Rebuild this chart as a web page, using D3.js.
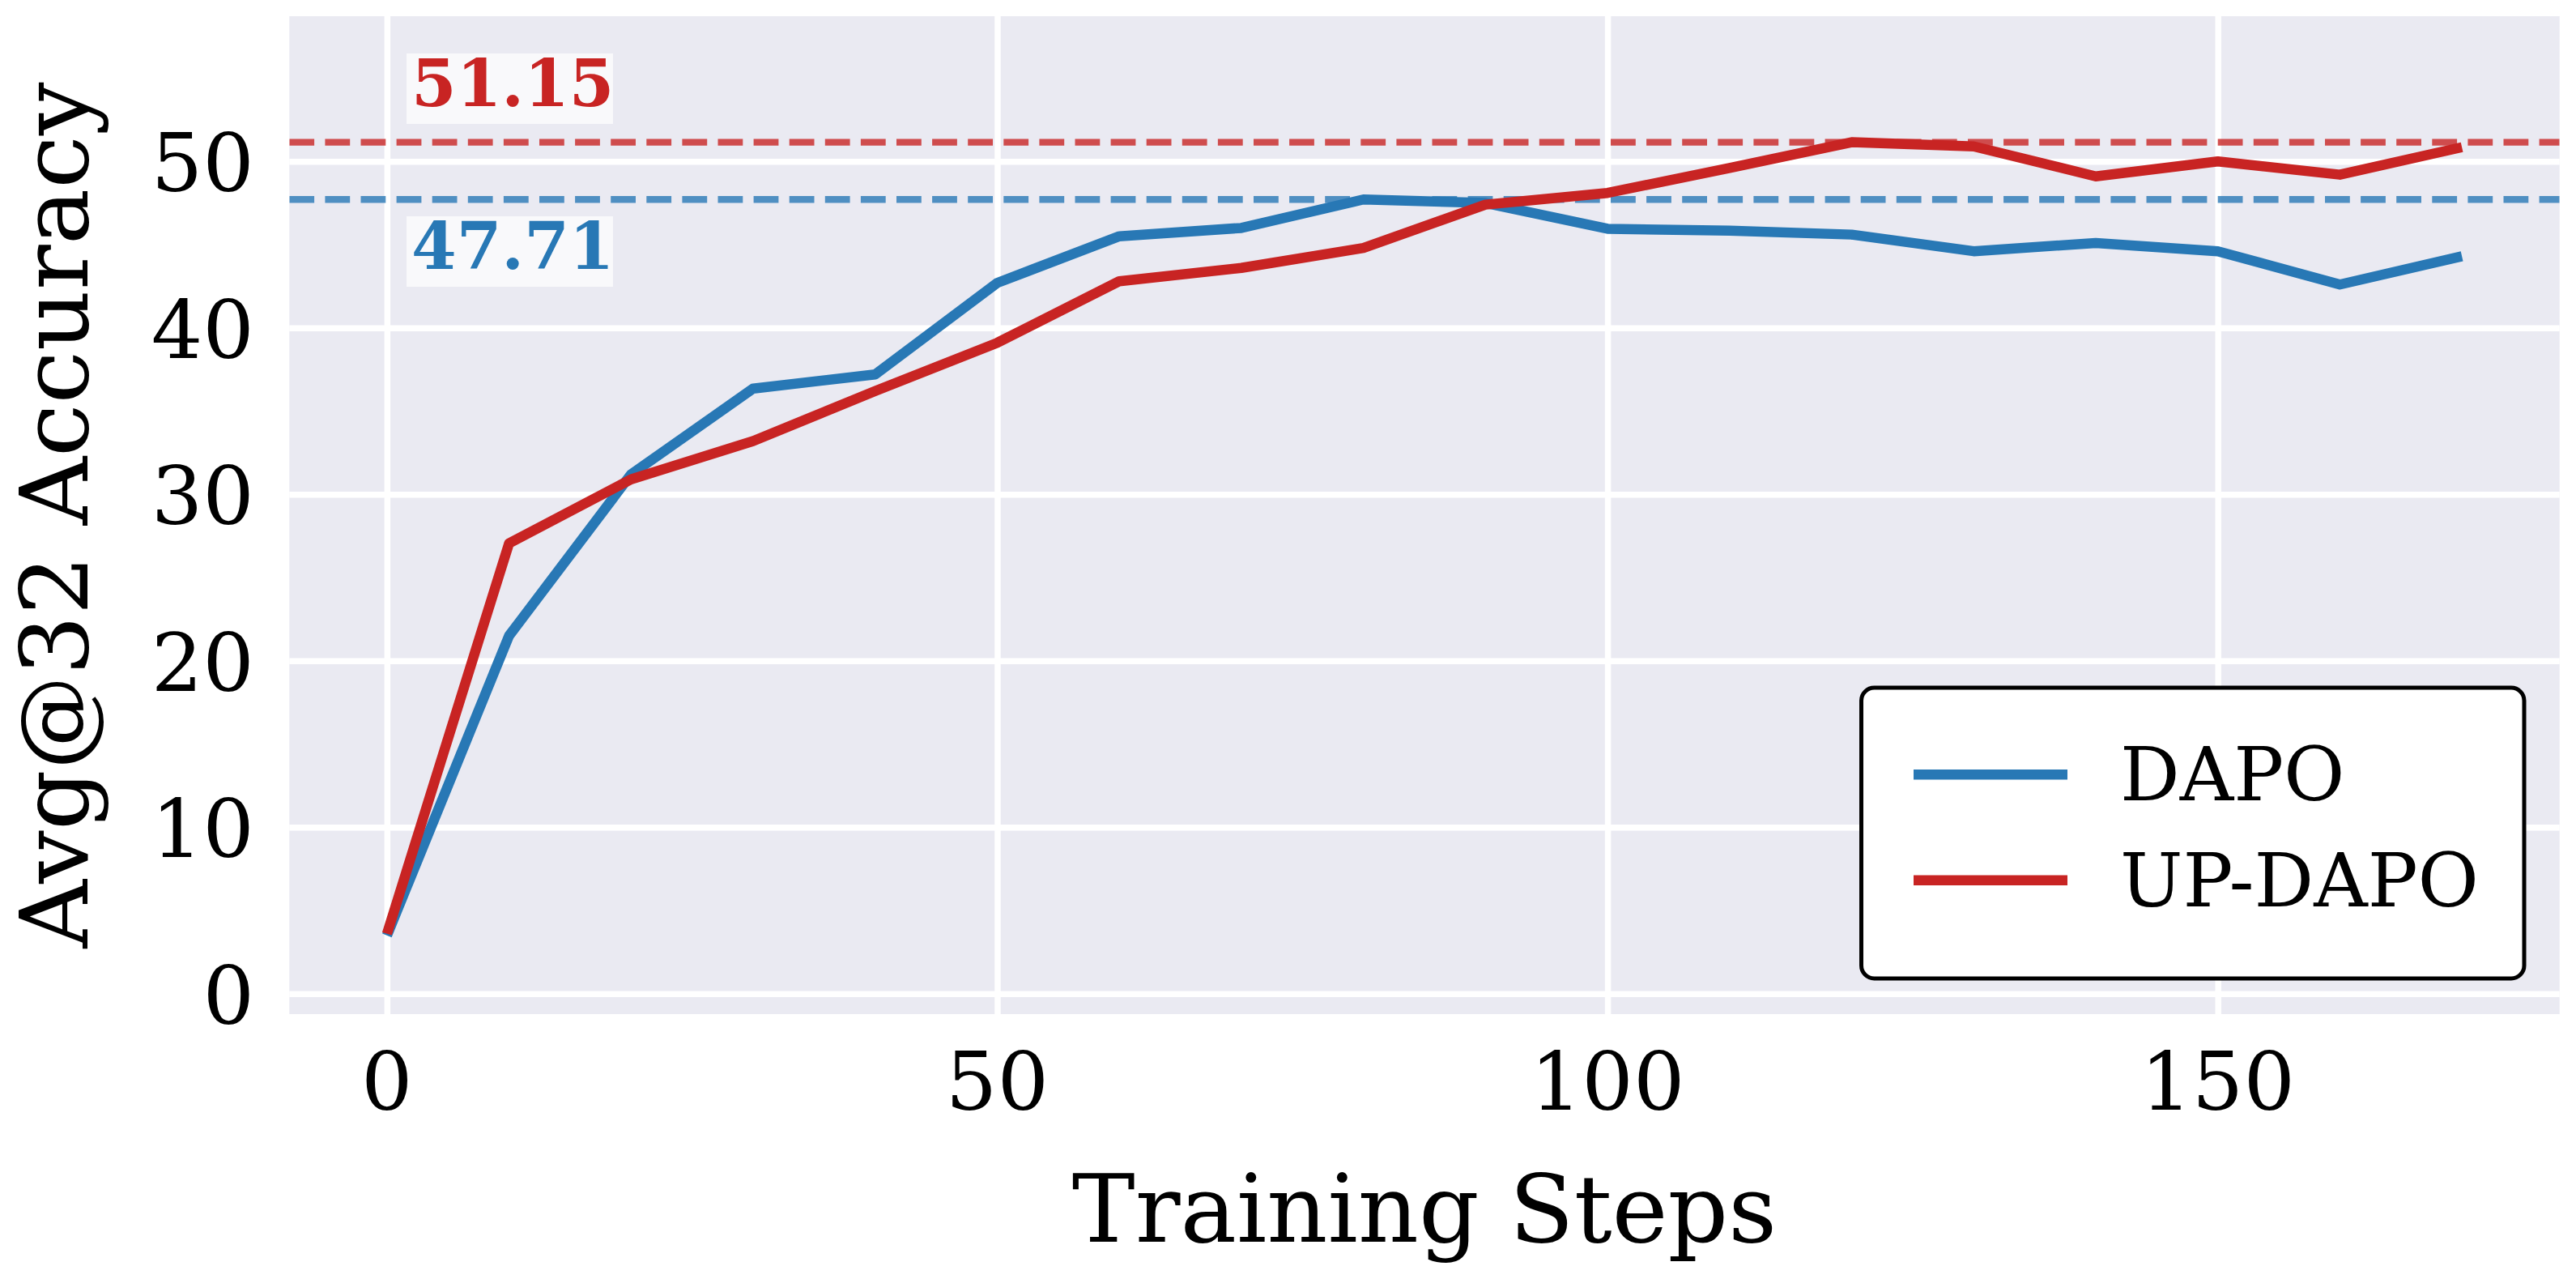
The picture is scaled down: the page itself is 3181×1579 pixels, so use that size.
<!DOCTYPE html>
<html>
<head>
<meta charset="utf-8">
<script src="https://cdn.jsdelivr.net/npm/d3@7"></script>
<style>
  html, body { margin: 0; padding: 0; background: #ffffff; }
  svg { display: block; }
  text { font-family: "DejaVu Serif", serif; }
</style>
</head>
<body>
<svg id="chart" width="3181" height="1579"></svg>
<script>
// ---- data ----
const steps = [0, 10, 20, 30, 40, 50, 60, 70, 80, 90, 100, 110, 120, 130, 140, 150, 160, 170];
const dapo = [3.5, 21.5, 31.2, 36.35, 37.2, 42.7, 45.5, 46.0, 47.71, 47.5, 45.95, 45.84, 45.6, 44.6, 45.1, 44.6, 42.6, 44.3];
const upDapo = [3.6, 27.05, 30.9, 33.2, 36.2, 39.1, 42.8, 43.6, 44.8, 47.4, 48.1, 49.6, 51.15, 50.9, 49.1, 50.0, 49.2, 50.85];
const seriesNames = ["DAPO", "UP-DAPO"];
const seriesColors = ["#2878b5", "#c82423"];
const maxLabels = ["47.71", "51.15"];
const xTicks = [0, 50, 100, 150];
const yTicks = [0, 10, 20, 30, 40, 50];
const xLabel = "Training Steps";
const yLabel = "Avg@32 Accuracy";

// ---- layout ----
const plot = { left: 357.3, right: 3160.7, top: 20, bottom: 1252 };
const svg = d3.select("#chart");

const x = d3.scaleLinear().domain([-8, 178]).range([plot.left, plot.right]);
const y = d3.scaleLinear().domain([-1.23, 58.72]).range([plot.bottom, plot.top]);

// background
svg.append("rect")
  .attr("x", plot.left).attr("y", plot.top)
  .attr("width", plot.right - plot.left).attr("height", plot.bottom - plot.top)
  .attr("fill", "#eaeaf2");

// grid via axes
const gx = svg.append("g")
  .attr("transform", `translate(0,${plot.bottom})`)
  .call(d3.axisBottom(x).tickValues(xTicks).tickSize(-(plot.bottom - plot.top)).tickFormat(""));
gx.select(".domain").remove();
gx.selectAll("line").attr("stroke", "#ffffff").attr("stroke-width", 7.5);

const gy = svg.append("g")
  .attr("transform", `translate(${plot.left},0)`)
  .call(d3.axisLeft(y).tickValues(yTicks).tickSize(-(plot.right - plot.left)).tickFormat(""));
gy.select(".domain").remove();
gy.selectAll("line").attr("stroke", "#ffffff").attr("stroke-width", 7.5);

// tick labels
svg.append("g").selectAll("text").data(xTicks).join("text")
  .attr("x", d => x(d)).attr("y", 1370)
  .attr("text-anchor", "middle").attr("font-size", 100).attr("fill", "#000")
  .text(d => d);

svg.append("g").selectAll("text").data(yTicks).join("text")
  .attr("x", 314).attr("y", d => y(d) + 37)
  .attr("text-anchor", "end").attr("font-size", 100).attr("fill", "#000")
  .text(d => d);

// axis labels
svg.append("text")
  .attr("x", (plot.left + plot.right) / 2).attr("y", 1533)
  .attr("text-anchor", "middle").attr("font-size", 116.7).attr("fill", "#000")
  .text(xLabel);

svg.append("text")
  .attr("transform", `translate(108,${(plot.top + plot.bottom) / 2}) rotate(-90)`)
  .attr("text-anchor", "middle").attr("font-size", 116.7).attr("fill", "#000")
  .text(yLabel);

// clip
svg.append("clipPath").attr("id", "clip").append("rect")
  .attr("x", plot.left).attr("y", plot.top)
  .attr("width", plot.right - plot.left).attr("height", plot.bottom - plot.top);

const allSeries = [dapo, upDapo];

// max dashed lines
const maxVals = allSeries.map(s => d3.max(s));
svg.append("g").attr("clip-path", "url(#clip)").selectAll("line").data(maxVals).join("line")
  .attr("x1", plot.left).attr("x2", plot.right)
  .attr("y1", d => y(d)).attr("y2", d => y(d))
  .attr("stroke", (d, i) => seriesColors[i]).attr("stroke-opacity", 0.8)
  .attr("stroke-width", 8.3).attr("stroke-dasharray", "30.8,13.3");

// lines
const line = d3.line().x((d, i) => x(steps[i])).y(d => y(d));
svg.append("g").attr("clip-path", "url(#clip)").selectAll("path").data(allSeries).join("path")
  .attr("d", d => line(d))
  .attr("fill", "none")
  .attr("stroke", (d, i) => seriesColors[i])
  .attr("stroke-width", 12.5)
  .attr("stroke-linejoin", "round")
  .attr("stroke-linecap", "butt");

// max labels with boxes
const labelPos = [
  { val: maxVals[0], baseline: 332 },
  { val: maxVals[1], baseline: 131 }
];
labelPos.forEach((p, i) => {
  const g = svg.append("g");
  const t = g.append("text")
    .attr("x", 508).attr("y", p.baseline)
    .attr("font-size", 80).attr("font-weight", "bold")
    .attr("fill", seriesColors[i])
    .text(maxLabels[i]);
  const bb = t.node().getBBox();
  g.insert("rect", "text")
    .attr("x", 502).attr("y", p.baseline - 65)
    .attr("width", 255).attr("height", 87)
    .attr("fill", "#ffffff").attr("fill-opacity", 0.7);
});

// legend
const lg = svg.append("g");
lg.append("rect")
  .attr("x", 2298.5).attr("y", 849)
  .attr("width", 818.5).attr("height", 359)
  .attr("rx", 16).attr("ry", 16)
  .attr("fill", "#ffffff").attr("stroke", "#000000").attr("stroke-width", 5);
const legY = [956.3, 1086.7];
seriesNames.forEach((name, i) => {
  lg.append("line")
    .attr("x1", 2363).attr("x2", 2553)
    .attr("y1", legY[i]).attr("y2", legY[i])
    .attr("stroke", seriesColors[i]).attr("stroke-width", 12.5);
  lg.append("text")
    .attr("x", 2618).attr("y", legY[i] + 32)
    .attr("font-size", 92).attr("fill", "#000")
    .text(name);
});
</script>
</body>
</html>
